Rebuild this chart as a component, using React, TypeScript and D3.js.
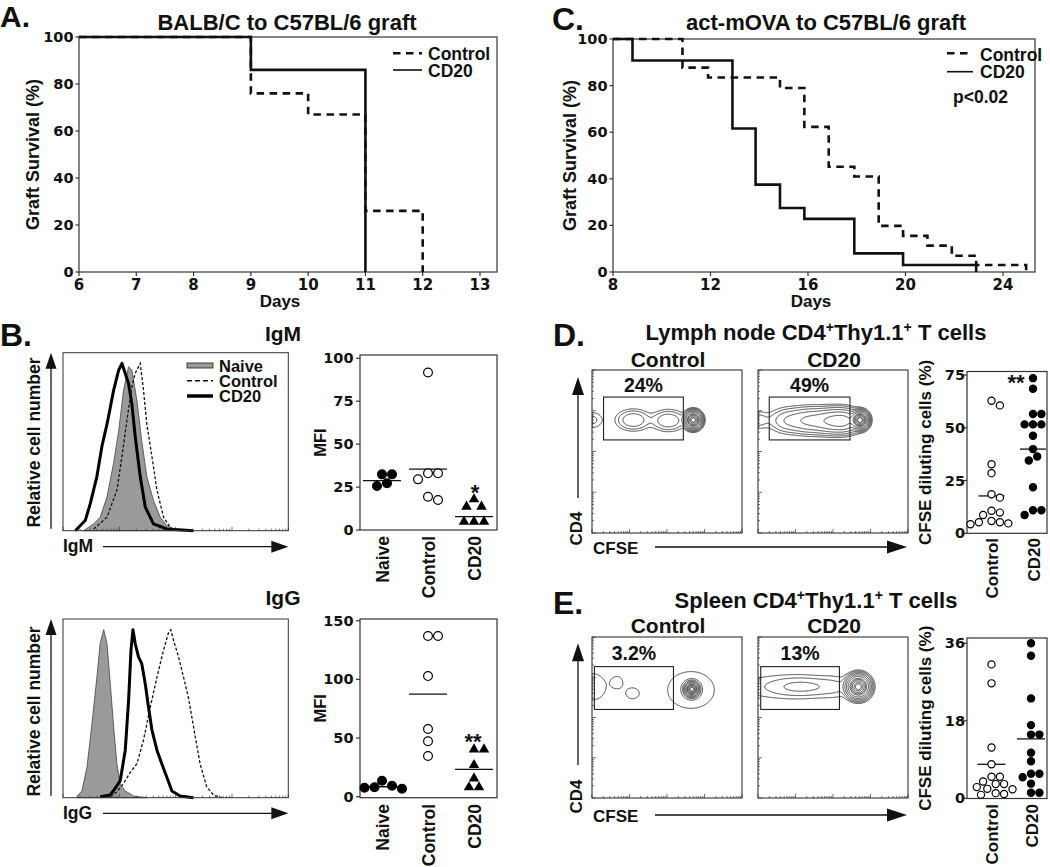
import React, { useMemo } from "react";
import * as d3 from "d3";

const SANS = "'Liberation Sans', Arial, Helvetica, sans-serif";
const NUM = "'DejaVu Sans', 'Liberation Sans', sans-serif";

// ---------- Panel A: BALB/C to C57BL/6 graft ----------
const aXTicks = [6, 7, 8, 9, 10, 11, 12, 13];
const aYTicks = [0, 20, 40, 60, 80, 100];
const aControlDays = [6, 9, 10, 11, 12];
const aControlSurv = [100, 76, 67, 26, 0];
const aCD20Days = [6, 9, 11];
const aCD20Surv = [100, 86, 0];

// ---------- Panel C: act-mOVA to C57BL/6 graft ----------
const cXTicks = [8, 12, 16, 20, 24];
const cYTicks = [0, 20, 40, 60, 80, 100];
const cControlDays = [8, 10.85, 11.9, 14.85, 15.85, 16.85, 17.9, 18.9, 19.9, 20.9, 21.9, 22.9, 24.95];
const cControlSurv = [100, 87.7, 83.5, 79, 62.3, 45.2, 41, 19.8, 15.5, 11.3, 7, 3, 0];
const cCD20Days = [8, 8.8, 12.9, 13.85, 14.85, 15.85, 17.9, 19.9, 22.9];
const cCD20Surv = [100, 90.8, 61.6, 37.5, 27.5, 22.8, 8, 3, 0];

// ---------- Panel B: histograms (channel 0-1024, % of max) ----------
const igmNaiveCh = [94, 139, 169, 200, 230, 253, 275, 298, 313, 336, 358, 381, 411, 442, 472, 502, 548];
const igmNaiveCount = [0, 4, 8, 20, 40, 59, 83, 97, 95, 77, 53, 32, 18, 8, 3, 1, 0];
const igmControlCh = [139, 200, 245, 268, 290, 313, 328, 351, 366, 381, 404, 427, 457, 487, 517];
const igmControlCount = [1, 8, 24, 44, 65, 85, 93, 99, 83, 63, 44, 24, 8, 2, 0];
const igmCD20Ch = [56, 101, 124, 154, 177, 200, 230, 253, 268, 283, 298, 313, 328, 351, 374, 411, 472, 593];
const igmCD20Count = [0, 6, 16, 32, 50, 63, 83, 95, 99, 93, 87, 75, 56, 32, 14, 4, 1, 0];

const iggNaiveCh = [64, 86, 109, 132, 154, 169, 185, 200, 215, 230, 245, 260, 283, 321, 381];
const iggNaiveCount = [1, 4, 18, 44, 71, 91, 99, 91, 67, 42, 20, 8, 4, 1, 0];
const iggControlCh = [215, 245, 275, 306, 336, 366, 396, 427, 457, 479, 490, 502, 525, 548, 570, 593, 623, 653, 684, 722];
const iggControlCount = [0.6, 3.5, 8.4, 15, 20, 34, 53, 71, 87, 97, 99, 93, 83, 71, 59, 42, 20, 6.5, 1.6, 0];
const iggCD20Ch = [169, 215, 237, 260, 283, 298, 309, 318, 328, 343, 358, 374, 389, 404, 427, 449, 472, 495, 532, 593];
const iggCD20Count = [0.6, 1.6, 5.5, 10, 28, 57, 87, 99, 91, 83, 79, 67, 53, 40, 28, 20, 12, 4, 1, 0];

// ---------- Panel B: MFI scatter ----------
const bCategories = ["Naive", "Control", "CD20"];
const igmYTicks = [0, 25, 50, 75, 100];
const igmNaive = [32.4, 32.4, 25.6, 27.2];
const igmControl = [91.7, 33, 33, 29.5, 17.5, 19.4];
const igmCD20 = [17.9, 13.6, 13.6, 4.9, 4.9, 4.9];
const igmMeans = [28.7, 35.5, 7.8];
const iggYTicks = [0, 50, 100, 150];
const iggNaive = [6.8, 9.4, 13.6, 7.7, 8];
const iggControl = [137, 137, 102.8, 57.7, 47.2, 34.7];
const iggCD20 = [40.3, 40.3, 27, 15.6, 8, 8];
const iggMeans = [8.5, 87.5, 23.3];

// ---------- Panels D/E: contour components [cx, cy, sx, sy, weight] (channel 0-1000) ----------
const lnControlComps = [
  [675, 693, 24, 23, 1],
  [275, 693, 60, 34, 0.03],
  [509, 690, 60, 34, 0.03],
  [-5, 693, 53, 34, 0.01],
];
const lnCD20Comps = [
  [680, 693, 24, 23, 1],
  [200, 690, 67, 40, 0.03],
  [333, 690, 67, 40, 0.06],
  [467, 688, 67, 38, 0.1],
  [567, 688, 60, 36, 0.15],
  [-5, 693, 53, 34, 0.012],
];
const spControlComps = [
  [665, 675, 20, 19, 1],
  [660, 671, 136, 100, 0.0075],
  [171, 719, 29, 29, 0.006],
  [271, 650, 43, 34, 0.006],
  [0, 691, 99, 89, 0.006],
];
const spCD20Comps = [
  [669, 691, 33, 31, 1],
  [291, 691, 125, 34, 0.015],
  [150, 691, 300, 62, 0.006],
  [520, 691, 80, 45, 0.005],
];
const contourLevels = [1 / 256, 1 / 128, 1 / 64, 1 / 32, 1 / 16, 1 / 8, 1 / 4, 0.35, 0.5, 0.7, 0.85];
// gates [x0, x1, y0, y1] in channels
const lnGates = [[77, 609, 571, 834], [75, 613, 571, 834]];
const spGates = [[16, 543, 550, 816], [18, 543, 550, 816]];
const lnPercents = ["24%", "49%"];
const spPercents = ["3.2%", "13%"];

// ---------- Panels D/E scatter ----------
const deCategories = ["Control", "CD20"];
const lnYTicks = [0, 25, 50, 75];
const lnControl = [62.8, 60.6, 32.7, 28.5, 18.5, 16.9, 10.7, 9.8, 8.7, 5.8, 5.2, 5.2, 4.7, 4.3];
const lnCD20 = [73.5, 68.5, 56.5, 56.5, 51.6, 51.6, 51.6, 46.2, 39.9, 36.4, 34.5, 21.8, 10.9, 10.9, 8.7];
const lnMeans = [17.7, 39.9];
const spYTicks = [0, 18, 36];
const spControl = [31.1, 26.7, 11.8, 7.9, 5.0, 5.0, 3.9, 3.3, 3.3, 2.6, 2.2, 2.1, 1.2, 1.0, 0.8];
const spCD20 = [36, 33.1, 23.2, 17.0, 14.8, 14.8, 10.6, 8.6, 5.7, 5.7, 4.9, 3.4, 1.3, 1.3];
const spMeans = [7.9, 13.8];

// ================= helpers =================
type Box = { x: number; y: number; w: number; h: number };

function zip(a: number[], b: number[]) {
  return a.map((v, i) => [v, b[i]] as [number, number]);
}

function swarm(values: number[], y: (v: number) => number, cx: number, r: number) {
  const order = values.map((_, i) => i).sort((a, b) => values[b] - values[a]);
  const placed: { x: number; y: number }[] = [];
  const res: { x: number; y: number }[] = new Array(values.length);
  for (const i of order) {
    const yy = y(values[i]);
    let chosen = cx;
    outer: for (let k = 0; k < 40; k++) {
      const cands = k === 0 ? [0] : [k * r * 0.5, -k * r * 0.5];
      for (const off of cands) {
        const xx = cx + off;
        if (placed.every((p) => (p.x - xx) ** 2 + (p.y - yy) ** 2 >= (2 * r) ** 2 * 0.96)) {
          chosen = xx;
          break outer;
        }
      }
    }
    placed.push({ x: chosen, y: yy });
    res[i] = { x: chosen, y: yy };
  }
  return res;
}

function contourPaths(comps: number[][], box: Box) {
  const nx = Math.round(box.w * 2), ny = Math.round(box.h * 2);
  const vals = new Array(nx * ny);
  for (let j = 0; j < ny; j++) {
    const yv = 1000 - ((j + 0.5) / ny) * 1000;
    for (let i = 0; i < nx; i++) {
      const xv = ((i + 0.5) / nx) * 1000;
      let v = 0;
      for (const [cx, cy, sx, sy, w] of comps) {
        const dx = (xv - cx) / sx, dy = (yv - cy) / sy;
        v += w * Math.exp(-0.5 * (dx * dx + dy * dy));
      }
      vals[j * nx + i] = v;
    }
  }
  const cs = d3.contours().size([nx, ny]).thresholds(contourLevels)(vals);
  const proj = d3.geoTransform({
    point(px: number, py: number) {
      (this as any).stream.point(box.x + (px * box.w) / nx, box.y + (py * box.h) / ny);
    },
  });
  const gp = d3.geoPath(proj as any);
  return cs.map((c) => gp(c as any) || "");
}

const logFracs = [
  ...d3.range(0, 4).flatMap((d) => d3.range(1, 10).map((m) => ({ f: (d + Math.log10(m)) / 4, major: m === 1 }))),
  { f: 1, major: true },
];

function UpArrow({ x, top, bottom, head = 16, hw = 5.5 }: any) {
  return (
    <g>
      <line x1={x} x2={x} y1={bottom} y2={top + head - 1} stroke="#111" strokeWidth={1.3} />
      <polygon points={`${x},${top} ${x - hw},${top + head} ${x + hw},${top + head}`} fill="#111" />
    </g>
  );
}
function RightArrow({ y, left, right, head = 17, hh = 6 }: any) {
  return (
    <g>
      <line x1={left} x2={right - head + 1} y1={y} y2={y} stroke="#111" strokeWidth={1.3} />
      <polygon points={`${right},${y} ${right - head},${y - hh} ${right - head},${y + hh}`} fill="#111" />
    </g>
  );
}

function Survival({ box, xDomain, xRange, xTicks, yTicks, control, cd20, title, titleX, letter, letterX, letterY, letterSize, daysX, ylabX }: any) {
  const x = d3.scaleLinear(xDomain, xRange);
  const y = d3.scaleLinear([0, 100], [box.y + box.h, box.y]);
  const line = d3
    .line<[number, number]>()
    .x((d) => x(d[0]))
    .y((d) => y(d[1]))
    .curve(d3.curveStepAfter);
  const bottom = box.y + box.h;
  return (
    <g>
      <text x={letterX} y={letterY} fontSize={letterSize}>{letter}</text>
      <text x={titleX} y={30} fontSize={22} textAnchor="middle">{title}</text>
      <rect x={box.x} y={box.y} width={box.w} height={box.h} fill="none" stroke="#444" strokeWidth={1.3} />
      {xTicks.map((t: number) => (
        <g key={"x" + t}>
          <line x1={x(t)} x2={x(t)} y1={bottom} y2={bottom + 4} stroke="#333" strokeWidth={1.2} />
          <text x={x(t)} y={289.5} textAnchor="middle" fontFamily={NUM} fontSize={15}>{t}</text>
        </g>
      ))}
      {yTicks.map((t: number) => (
        <g key={"y" + t}>
          <line x1={box.x - 3.5} x2={box.x} y1={y(t)} y2={y(t)} stroke="#333" strokeWidth={1.2} />
          <text x={box.x - 5.5} y={y(t) + 5} textAnchor="end" fontFamily={NUM} fontSize={14.5}>{t}</text>
        </g>
      ))}
      <path d={line(control) || ""} fill="none" stroke="#111" strokeWidth={2.6} strokeDasharray="7.5,5.5" />
      <path d={line(cd20) || ""} fill="none" stroke="#111" strokeWidth={2.6} />
      <text x={daysX} y={306.5} fontSize={17} textAnchor="middle">Days</text>
      <text transform={`translate(${ylabX},${(box.y + bottom) / 2}) rotate(-90)`} fontSize={18} textAnchor="middle">
        Graft Survival (%)
      </text>
    </g>
  );
}

function Histogram({ box, naive, control, cd20, title, xlabel, arrowY, labelY, titleY, ylabCenter }: any) {
  const hx = d3.scaleLinear([0, 1024], [box.x, box.x + box.w]);
  const hy = d3.scaleLinear([0, 105.3], [box.y + box.h, box.y]);
  const area = d3.area<[number, number]>().x((d) => hx(d[0])).y0(hy(0)).y1((d) => hy(d[1]));
  const line = d3.line<[number, number]>().x((d) => hx(d[0])).y((d) => hy(d[1]));
  const bottom = box.y + box.h;
  return (
    <g>
      <text x={283} y={titleY} fontSize={21} textAnchor="middle">{title}</text>
      <path d={area(naive) || ""} fill="#9a9a9a" stroke="#444" strokeWidth={0.8} />
      <path d={line(cd20) || ""} fill="none" stroke="#000" strokeWidth={3} strokeLinejoin="round" />
      <path d={line(control) || ""} fill="none" stroke="#111" strokeWidth={1.3} strokeDasharray="3,2" />
      <rect x={box.x} y={box.y} width={box.w} height={box.h} fill="none" stroke="#333" strokeWidth={1} />
      {logFracs.map((t, i) => (
        <line key={i} x1={box.x + t.f * box.w} x2={box.x + t.f * box.w} y1={bottom} y2={bottom - (t.major ? 4 : 2)} stroke="#333" strokeWidth={0.7} />
      ))}
      <UpArrow x={51} top={box.y} bottom={bottom - 2} />
      <RightArrow y={arrowY} left={103} right={box.x + box.w} />
      <text x={box.x} y={labelY} fontSize={17.5}>{xlabel}</text>
      <text transform={`translate(40,${ylabCenter}) rotate(-90)`} fontSize={17.5} textAnchor="middle">
        Relative cell number
      </text>
    </g>
  );
}

function Scatter({ box, yDomain, yRange, ticks, cats, catRange, groups, means, meanHalf, r, catTop, catFont, ylabel, ylabX, ylabFont, tickGap, star, starX, starY }: any) {
  const y = d3.scaleLinear(yDomain, yRange);
  const cx = d3.scalePoint(cats, catRange);
  const bottom = box.y + box.h;
  return (
    <g>
      <rect x={box.x} y={box.y} width={box.w} height={box.h} fill="none" stroke="#333" strokeWidth={1.2} />
      {ticks.map((t: number) => (
        <g key={t}>
          <line x1={box.x - 4} x2={box.x} y1={y(t)} y2={y(t)} stroke="#333" strokeWidth={1.2} />
          <text x={box.x - tickGap} y={y(t) + 5} textAnchor="end" fontFamily={NUM} fontSize={14.5}>{t}</text>
        </g>
      ))}
      {groups.map((g: any, gi: number) => {
        const c = cx(cats[gi]) as number;
        const pts = swarm(g.values, y, c, r);
        return (
          <g key={gi}>
            <line x1={c - meanHalf} x2={c + meanHalf} y1={y(means[gi])} y2={y(means[gi])} stroke="#111" strokeWidth={1.3} />
            {pts.map((p, i) =>
              g.shape === "tri" ? (
                <path key={i} transform={`translate(${p.x},${p.y})`} d={d3.symbol(d3.symbolTriangle, 48)() || ""} fill="#000" />
              ) : (
                <circle key={i} cx={p.x} cy={p.y} r={r - 0.6} fill={g.shape === "open" ? "#fff" : "#000"} stroke="#000" strokeWidth={1.2} />
              )
            )}
          </g>
        );
      })}
      {cats.map((c: string) => (
        <text key={c} transform={`translate(${(cx(c) as number) + 6.5},${catTop}) rotate(-90)`} textAnchor="end" fontSize={catFont}>
          {c}
        </text>
      ))}
      <text transform={`translate(${ylabX},${(box.y + bottom) / 2}) rotate(-90)`} textAnchor="middle" fontSize={ylabFont}>
        {ylabel}
      </text>
      {star ? (
        <text x={starX} y={starY} textAnchor="middle" fontSize={22}>{star}</text>
      ) : null}
    </g>
  );
}

function FlowPair({ boxes, comps, gates, percents, pctY, subY, arrowTop, arrowBottom, cfseY, cfseArrowY, cd4Center, id }: any) {
  const paths = useMemo(() => comps.map((c: number[][], i: number) => contourPaths(c, boxes[i])), []);
  return (
    <g>
      {boxes.map((b: Box, i: number) => {
        const gx = d3.scaleLinear([0, 1000], [b.x, b.x + b.w]);
        const gy = d3.scaleLinear([0, 1000], [b.y + b.h, b.y]);
        const [x0, x1, y0, y1] = gates[i];
        return (
          <g key={i}>
            <clipPath id={`${id}${i}`}>
              <rect x={b.x} y={b.y} width={b.w} height={b.h} />
            </clipPath>
            <text x={b.x + b.w / 2 + 1} y={subY} textAnchor="middle" fontSize={21}>{i === 0 ? "Control" : "CD20"}</text>
            <g clipPath={`url(#${id}${i})`}>
              {paths[i].map((d: string, k: number) => (
                <path key={k} d={d} fill="none" stroke="#1a1a1a" strokeWidth={0.8} />
              ))}
            </g>
            <rect x={gx(x0)} y={gy(y1)} width={gx(x1) - gx(x0)} height={gy(y0) - gy(y1)} fill="none" stroke="#222" strokeWidth={1.1} />
            <text x={(gx(x0) + gx(x1)) / 2} y={pctY} textAnchor="middle" fontSize={19.5}>{percents[i]}</text>
            <rect x={b.x} y={b.y} width={b.w} height={b.h} fill="none" stroke="#333" strokeWidth={1.1} />
            {logFracs.map((t, k) => (
              <g key={k}>
                <line x1={b.x + t.f * b.w} x2={b.x + t.f * b.w} y1={b.y + b.h} y2={b.y + b.h - (t.major ? 4 : 2)} stroke="#333" strokeWidth={0.7} />
                <line x1={b.x} x2={b.x + (t.major ? 4 : 2)} y1={b.y + b.h - t.f * b.h} y2={b.y + b.h - t.f * b.h} stroke="#333" strokeWidth={0.7} />
              </g>
            ))}
          </g>
        );
      })}
      <UpArrow x={578} top={arrowTop} bottom={arrowBottom} head={18} hw={6} />
      <text transform={`translate(582,${cd4Center}) rotate(-90)`} textAnchor="middle" fontSize={17}>CD4</text>
      <text x={593} y={cfseY} fontSize={17}>CFSE</text>
      <RightArrow y={cfseArrowY} left={655} right={907} head={20} hh={6.5} />
    </g>
  );
}

export default function App() {
  const hB1: Box = { x: 63, y: 352.7, w: 225.3, h: 178 };
  const hB2: Box = { x: 63, y: 619, w: 225.3, h: 178.7 };
  const dBoxes: Box[] = [
    { x: 592, y: 370, w: 150, h: 163 },
    { x: 758, y: 370, w: 150, h: 163 },
  ];
  const eBoxes: Box[] = [
    { x: 592, y: 637, w: 150, h: 161 },
    { x: 758, y: 637, w: 150, h: 161 },
  ];
  return (
    <svg
      width={1050}
      height={867}
      style={{ position: "absolute", left: 0, top: 0, background: "#fff" }}
      fontFamily={SANS}
      fontWeight="bold"
      fill="#111"
    >
      <rect x={0} y={0} width={1050} height={867} fill="#fff" />
      {/* Panel A */}
      <Survival
        box={{ x: 79, y: 37, w: 418, h: 235 }}
        xDomain={[6, 13]}
        xRange={[79, 480]}
        xTicks={aXTicks}
        yTicks={aYTicks}
        control={zip(aControlDays, aControlSurv)}
        cd20={zip(aCD20Days, aCD20Surv)}
        title="BALB/C to C57BL/6 graft"
        titleX={287}
        letter="A."
        letterX={0}
        letterY={27}
        letterSize={30}
        daysX={280}
        ylabX={38.5}
      />
      <line x1={393} x2={422} y1={53.3} y2={53.3} stroke="#111" strokeWidth={2.6} strokeDasharray="7.5,5.5" />
      <text x={428} y={60} fontSize={17.5}>Control</text>
      <line x1={393} x2={422} y1={70} y2={70} stroke="#111" strokeWidth={1.6} />
      <text x={428} y={77.3} fontSize={17.5}>CD20</text>

      {/* Panel C */}
      <Survival
        box={{ x: 613, y: 39, w: 422, h: 233 }}
        xDomain={[8, 24]}
        xRange={[613, 1003]}
        xTicks={cXTicks}
        yTicks={cYTicks}
        control={zip(cControlDays, cControlSurv)}
        cd20={zip(cCD20Days, cCD20Surv)}
        title="act-mOVA to C57BL/6 graft"
        titleX={826}
        letter="C."
        letterX={552}
        letterY={30}
        letterSize={32}
        daysX={811}
        ylabX={576}
      />
      <line x1={947} x2={973} y1={53.3} y2={53.3} stroke="#111" strokeWidth={2.6} strokeDasharray="7.5,5.5" />
      <text x={980} y={60.5} fontSize={17.5}>Control</text>
      <line x1={947} x2={973} y1={71.7} y2={71.7} stroke="#111" strokeWidth={1.6} />
      <text x={980} y={78.3} fontSize={17.5}>CD20</text>
      <text x={953} y={102.5} fontSize={17.5}>p&lt;0.02</text>

      {/* Panel B */}
      <text x={0} y={346} fontSize={32}>B.</text>
      <Histogram
        box={hB1}
        naive={zip(igmNaiveCh, igmNaiveCount)}
        control={zip(igmControlCh, igmControlCount)}
        cd20={zip(igmCD20Ch, igmCD20Count)}
        title="IgM"
        xlabel="IgM"
        arrowY={546.7}
        labelY={552}
        titleY={341}
        ylabCenter={442.5}
      />
      <rect x={187} y={363} width={26} height={5} fill="#9a9a9a" stroke="#333" strokeWidth={0.9} />
      <text x={219} y={372} fontSize={16.5}>Naive</text>
      <line x1={187} x2={213} y1={380.7} y2={380.7} stroke="#111" strokeWidth={1.6} strokeDasharray="5,3" />
      <text x={219} y={387} fontSize={16.5}>Control</text>
      <line x1={187} x2={213} y1={396} y2={396} stroke="#000" strokeWidth={3.5} />
      <text x={219} y={402} fontSize={16.5}>CD20</text>
      <Histogram
        box={hB2}
        naive={zip(iggNaiveCh, iggNaiveCount)}
        control={zip(iggControlCh, iggControlCount)}
        cd20={zip(iggCD20Ch, iggCD20Count)}
        title="IgG"
        xlabel="IgG"
        arrowY={813.3}
        labelY={818.5}
        titleY={605}
        ylabCenter={711.5}
      />
      <Scatter
        box={{ x: 360, y: 355, w: 137, h: 175 }}
        yDomain={[0, 100]}
        yRange={[530, 358.3]}
        ticks={igmYTicks}
        cats={bCategories}
        catRange={[382, 474]}
        groups={[
          { values: igmNaive, shape: "filled" },
          { values: igmControl, shape: "open" },
          { values: igmCD20, shape: "tri" },
        ]}
        means={igmMeans}
        meanHalf={19}
        r={5}
        catTop={536}
        catFont={17.5}
        ylabel="MFI"
        ylabX={325.5}
        ylabFont={16.5}
        tickGap={6.5}
        star="*"
        starX={475}
        starY={499.5}
      />
      <Scatter
        box={{ x: 360, y: 619, w: 137, h: 178.7 }}
        yDomain={[0, 150]}
        yRange={[796.7, 620.7]}
        ticks={iggYTicks}
        cats={bCategories}
        catRange={[382, 474]}
        groups={[
          { values: iggNaive, shape: "filled" },
          { values: iggControl, shape: "open" },
          { values: iggCD20, shape: "tri" },
        ]}
        means={iggMeans}
        meanHalf={19}
        r={5}
        catTop={804}
        catFont={17.5}
        ylabel="MFI"
        ylabX={325.5}
        ylabFont={16.5}
        tickGap={6.5}
        star="**"
        starX={473}
        starY={749}
      />

      {/* Panel D */}
      <text x={553} y={346} fontSize={32}>D.</text>
      <text x={816} y={340} textAnchor="middle" fontSize={22}>
        Lymph node CD4<tspan dy={-8} fontSize={14}>+</tspan>
        <tspan dy={8}>Thy1.1</tspan>
        <tspan dy={-8} fontSize={14}>+</tspan>
        <tspan dy={8}> T cells</tspan>
      </text>
      <FlowPair
        id="lnclip"
        boxes={dBoxes}
        comps={[lnControlComps, lnCD20Comps]}
        gates={lnGates}
        percents={lnPercents}
        pctY={391.5}
        subY={367}
        arrowTop={377}
        arrowBottom={498}
        cfseY={553.7}
        cfseArrowY={547}
        cd4Center={528.5}
      />
      <Scatter
        box={{ x: 967, y: 371.5, w: 80, h: 161.8 }}
        yDomain={[0, 75]}
        yRange={[533.3, 375]}
        ticks={lnYTicks}
        cats={deCategories}
        catRange={[991.5, 1033]}
        groups={[
          { values: lnControl, shape: "open" },
          { values: lnCD20, shape: "filled" },
        ]}
        means={lnMeans}
        meanHalf={13}
        r={4.2}
        catTop={538}
        catFont={17}
        ylabel="CFSE diluting cells (%)"
        ylabX={931}
        ylabFont={17}
        tickGap={2}
        star="**"
        starX={1016}
        starY={390}
      />

      {/* Panel E */}
      <text x={553} y={614} fontSize={32}>E.</text>
      <text x={816} y={608} textAnchor="middle" fontSize={22}>
        Spleen CD4<tspan dy={-8} fontSize={14}>+</tspan>
        <tspan dy={8}>Thy1.1</tspan>
        <tspan dy={-8} fontSize={14}>+</tspan>
        <tspan dy={8}> T cells</tspan>
      </text>
      <FlowPair
        id="spclip"
        boxes={eBoxes}
        comps={[spControlComps, spCD20Comps]}
        gates={spGates}
        percents={spPercents}
        pctY={660}
        subY={633}
        arrowTop={643.3}
        arrowBottom={765}
        cfseY={821.7}
        cfseArrowY={815}
        cd4Center={796.5}
      />
      <Scatter
        box={{ x: 967, y: 638, w: 80, h: 160.5 }}
        yDomain={[0, 36]}
        yRange={[798.3, 643.3]}
        ticks={spYTicks}
        cats={deCategories}
        catRange={[991.5, 1031]}
        groups={[
          { values: spControl, shape: "open" },
          { values: spCD20, shape: "filled" },
        ]}
        means={spMeans}
        meanHalf={14}
        r={4.2}
        catTop={804}
        catFont={17}
        ylabel="CFSE diluting cells (%)"
        ylabX={931}
        ylabFont={17}
        tickGap={2}
        star={null}
      />
    </svg>
  );
}
